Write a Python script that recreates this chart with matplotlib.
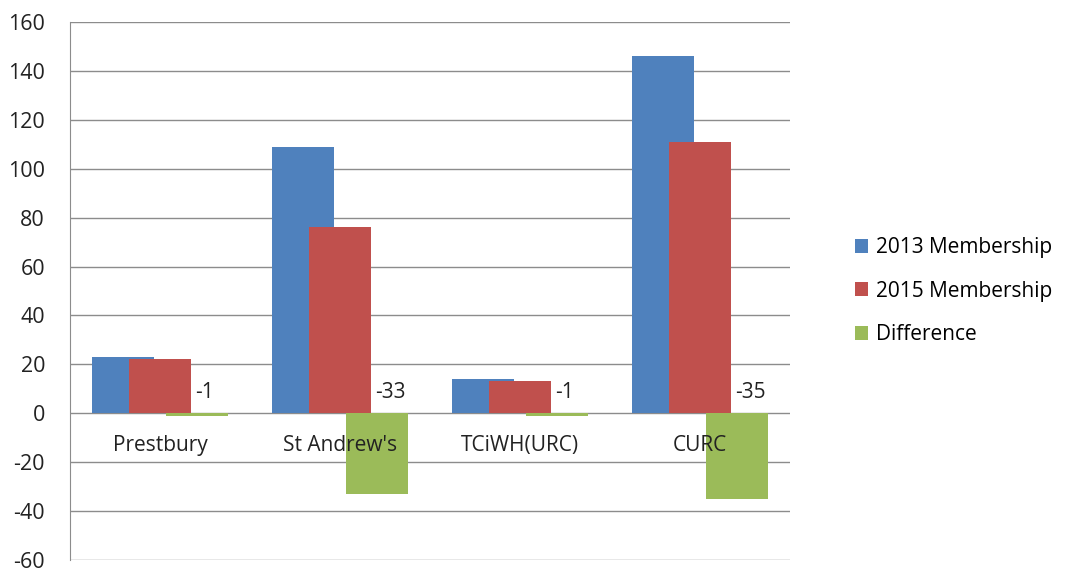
import matplotlib
matplotlib.use("Agg")
import matplotlib.pyplot as plt
import numpy as np
from matplotlib.patches import Patch

categories = ["Prestbury", "St Andrew's", "TCiWH(URC)", "CURC"]
m2013 = [23, 109, 14, 146]
m2015 = [22, 76, 13, 111]
diff = [-1, -33, -1, -35]
yticks = list(range(-60, 161, 20))

colors = ["#4F81BD", "#C0504D", "#9BBB59"]
font = ["Open Sans", "DejaVu Sans"]
plt.rcParams['font.family'] = font

fig = plt.figure(figsize=(10.67, 5.72), dpi=100)
ax = fig.add_axes([70/1067, 12/572, 720/1067, 538/572])

x = np.arange(len(categories))
w = 0.344
off = 0.205
ax.bar(x - off, m2013, width=w, color=colors[0], zorder=2)
ax.bar(x, m2015, width=w, color=colors[1], zorder=3)
ax.bar(x + off, diff, width=w, color=colors[2], zorder=4)

for xi, d in zip(x, diff):
    ax.text(xi + w / 2 + 0.025, 8.5, str(d), ha="left", va="center", fontsize=15, color="#222222", zorder=5)
for xi, c in zip(x, categories):
    ax.text(xi, -13, c, ha="center", va="center", fontsize=15, color="#222222", zorder=5)

ax.set_xlim(-0.5, len(categories) - 0.5)
ax.set_ylim(-60, 160)
ax.set_yticks(yticks)
ax.set_yticklabels([str(t) for t in yticks], fontsize=15.5, color="#222222")
ax.set_xticks([])
ax.tick_params(axis="y", length=0, pad=18)
ax.yaxis.grid(True, color="#8c8c8c", linewidth=1, zorder=0)
ax.set_axisbelow(True)
for s in ["top", "right", "bottom"]:
    ax.spines[s].set_visible(False)
ax.spines["left"].set_color("#8c8c8c")

handles = [Patch(facecolor=c) for c in colors]
fig.legend(handles, ["2013 Membership", "2015 Membership", "Difference"],
           loc="center left", bbox_to_anchor=(836/1067, 1 - 291/572), frameon=False,
           fontsize=15.0, handlelength=0.65, handleheight=0.65, handletextpad=0.35,
           labelspacing=1.08)

fig.savefig("out.png", dpi=100)
